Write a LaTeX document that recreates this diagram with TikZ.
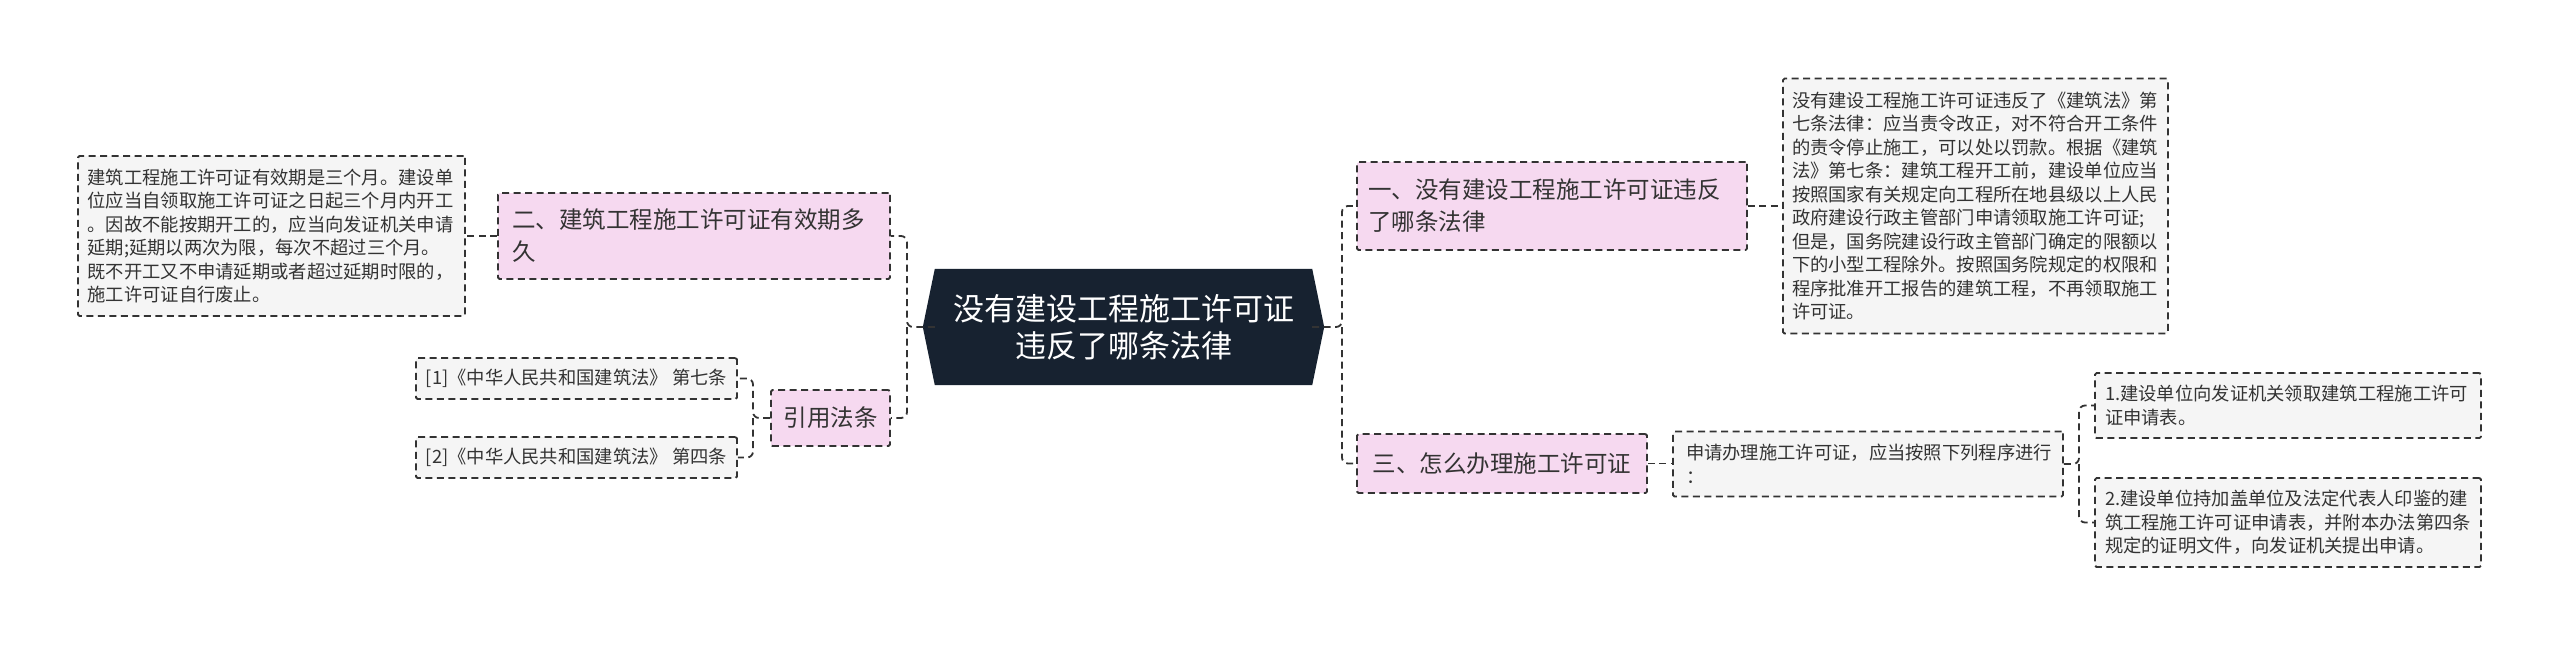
\documentclass[tikz,border=0pt]{standalone}
\usepackage{fontspec}
\setmainfont{Noto Sans CJK SC}
\usetikzlibrary{backgrounds}
\definecolor{pinkfill}{HTML}{F6D9F0}
\definecolor{grayfill}{HTML}{F5F5F5}
\definecolor{linecol}{HTML}{333333}
\definecolor{textcol}{HTML}{333333}
\definecolor{navy}{HTML}{172230}
\begin{document}
\begin{tikzpicture}[x=1pt,y=-1pt,
  dsh/.style={dash pattern=on 7pt off 4.5pt},
  box/.style={draw=linecol, dsh, line width=1.8pt, text=textcol, inner ysep=0pt, rounded corners=1.5pt},
  topic/.style={box, fill=pinkfill, font=\fontsize{23.5}{32}\selectfont},
  detail/.style={box, fill=grayfill, font=\fontsize{18.3}{23.5}\selectfont, align=left},
  conn/.style={draw=linecol, dsh, line width=1.8pt, rounded corners=6pt}]
\useasboundingbox (0,0) rectangle (2560,646);

% central node
\node[text=white, font=\fontsize{31}{37}\selectfont, align=center,
      minimum width=377pt, minimum height=116pt, inner sep=0pt] (c) at (1123.5,327)
      {没有建设工程施工许可证\\违反了哪条法律};
\begin{scope}[on background layer]
\fill[white] (0,0) rectangle (2560,646);
\fill[navy] (c.north west) -- (c.north east) -- ([xshift=12pt]c.east) -- (c.south east)
   -- (c.south west) -- ([xshift=-12pt]c.west) -- cycle;
\end{scope}

% left side
\node[topic, text width=364pt, inner xsep=14pt, minimum height=86pt, align=left] (t2) at (694,236)
  {二、建筑工程施工许可证有效期多\\久};
\node[detail, text width=368pt, inner xsep=9.5pt, minimum height=160pt] (d2) at (271.5,236)
  {建筑工程施工许可证有效期是三个月。建设单\\位应当自领取施工许可证之日起三个月内开工\\。因故不能按期开工的，应当向发证机关申请\\延期;延期以两次为限，每次不超过三个月。\\既不开工又不申请延期或者超过延期时限的，\\施工许可证自行废止。};
\node[topic, minimum width=119pt, minimum height=56pt, inner xsep=0pt] (ref) at (830.5,418) {引用法条};
\node[detail, minimum width=321pt, inner xsep=0pt, minimum height=41pt] (r1) at (576.5,378.5)
  {[1]《中华人民共和国建筑法》 第七条};
\node[detail, minimum width=321pt, inner xsep=0pt, minimum height=41pt] (r2) at (576.5,457.5)
  {[2]《中华人民共和国建筑法》 第四条};

% right side
\node[topic, text width=368pt, inner xsep=11pt, minimum height=88pt, align=left] (t1) at (1552,206)
  {一、没有建设工程施工许可证违反\\了哪条法律};
\node[detail, text width=367pt, inner xsep=9pt, minimum height=255pt] (d1) at (1975.5,206)
  {没有建设工程施工许可证违反了《建筑法》第\\七条法律：应当责令改正，对不符合开工条件\\的责令停止施工，可以处以罚款。根据《建筑\\法》第七条：建筑工程开工前，建设单位应当\\按照国家有关规定向工程所在地县级以上人民\\政府建设行政主管部门申请领取施工许可证;\\但是，国务院建设行政主管部门确定的限额以\\下的小型工程除外。按照国务院规定的权限和\\程序批准开工报告的建筑工程，不再领取施工\\许可证。};
\node[topic, minimum width=290pt, minimum height=59pt, inner xsep=0pt] (t3) at (1502,463.5) {三、怎么办理施工许可证};
\node[detail, text width=364pt, inner xsep=13pt, minimum height=65pt] (s) at (1868,464)
  {申请办理施工许可证，应当按照下列程序进行\\：};
\node[detail, text width=366pt, inner xsep=10pt, minimum height=65pt] (p1) at (2288,405.5)
  {1.建设单位向发证机关领取建筑工程施工许可\\证申请表。};
\node[detail, text width=366pt, inner xsep=10pt, minimum height=89pt] (p2) at (2288,522.5)
  {2.建设单位持加盖单位及法定代表人印鉴的建\\筑工程施工许可证申请表，并附本办法第四条\\规定的证明文件，向发证机关提出申请。};

% trunk coordinates
\coordinate (tl) at (907,327);
\coordinate (tr) at (1342,327);
\coordinate (rl) at (753,418);
\coordinate (sr) at (2079,464);

% connectors
\draw[conn] (c.west) -- (tl) |- (t2.east);
\draw[conn] (tl) |- (ref.east);
\draw[conn] (c.east) -- (tr) |- (t1.west);
\draw[conn] (tr) |- (t3.west);
\draw[conn] (t2.west) -- (d2.east);
\draw[conn] (ref.west) -- (rl) |- (r1.east);
\draw[conn] (rl) |- (r2.east);
\draw[conn] (t1.east) -- (d1.west);
\draw[conn] (t3.east) -- (t3.east -| s.west);
\draw[conn] (s.east) -- (sr) |- (p1.west);
\draw[conn] (sr) |- (p2.west);
\end{tikzpicture}
\end{document}
